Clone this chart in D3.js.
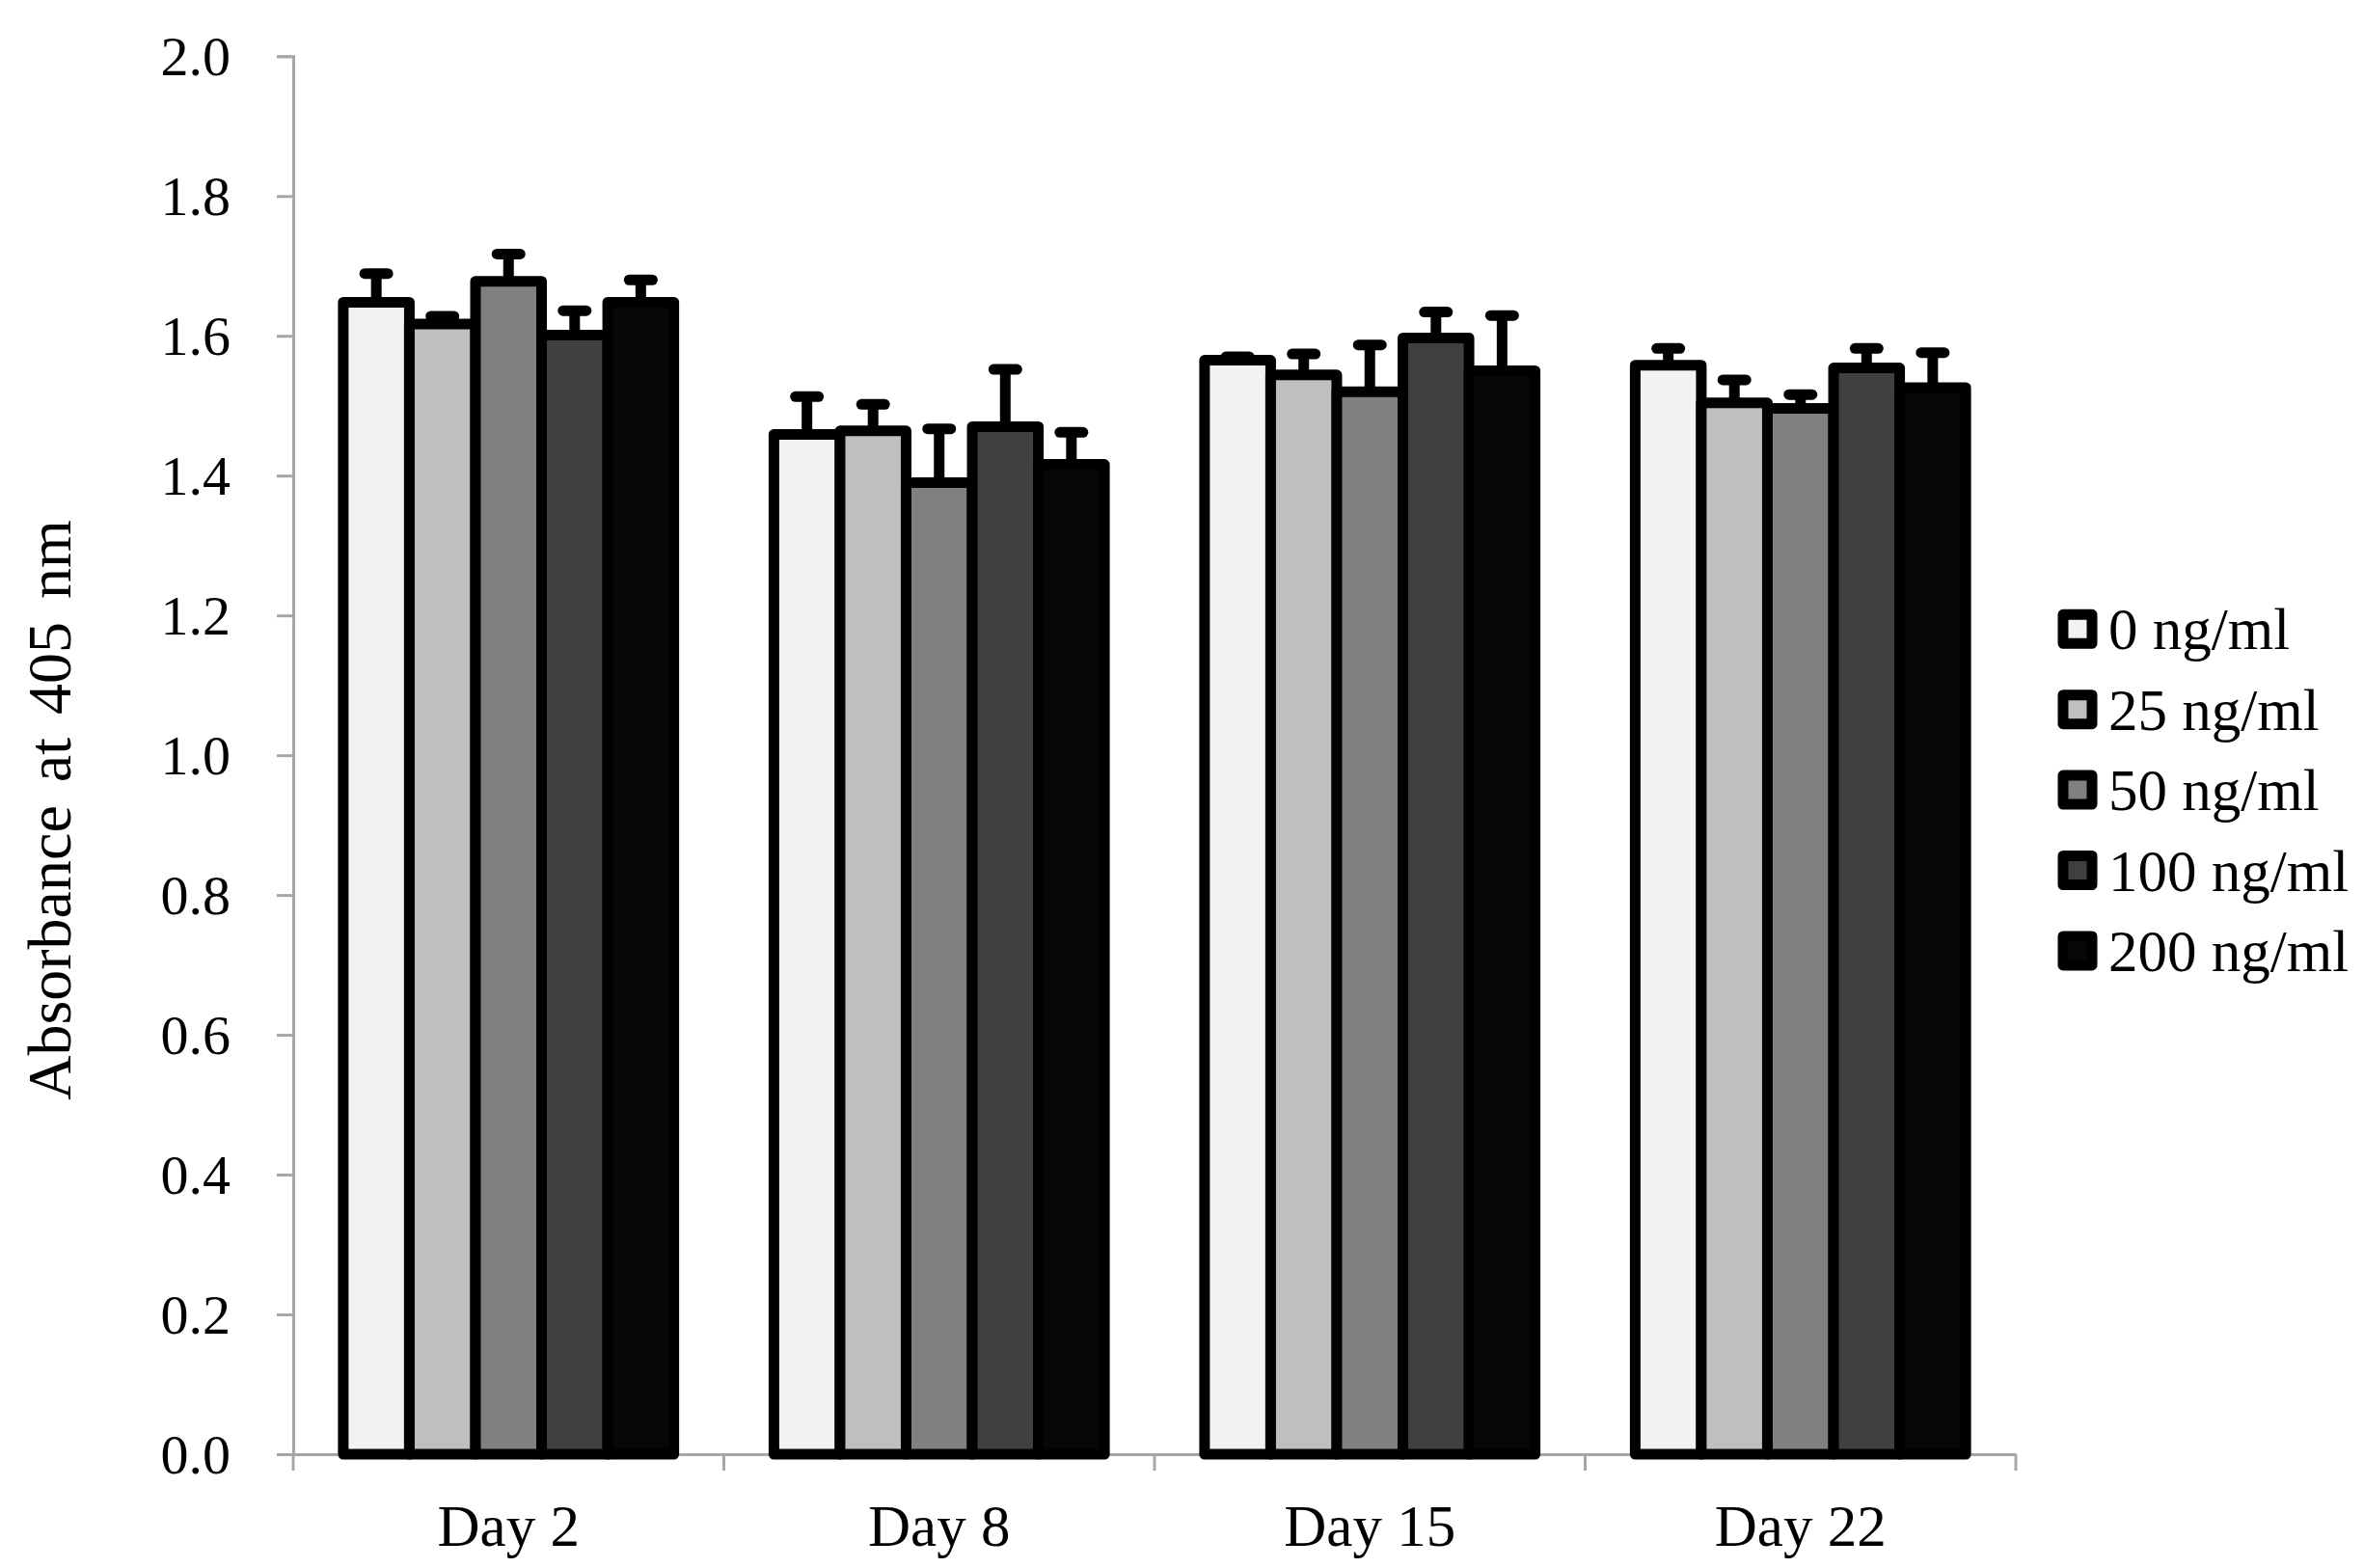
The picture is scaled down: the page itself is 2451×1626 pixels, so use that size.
<!DOCTYPE html>
<html><head><meta charset="utf-8">
<script src="https://cdn.jsdelivr.net/npm/d3@7"></script>
<style>body{margin:0;background:#fff}svg{display:block}</style>
</head><body>
<script>
const days = ["Day 2", "Day 8", "Day 15", "Day 22"];
const series = ["0 ng/ml", "25 ng/ml", "50 ng/ml", "100 ng/ml", "200 ng/ml"];
const colors = ["#f2f2f2", "#bfbfbf", "#808080", "#404040", "#070707"];
// values per series, across days
const means = [
  [1.648, 1.459, 1.565, 1.558],
  [1.617, 1.464, 1.544, 1.504],
  [1.678, 1.390, 1.520, 1.496],
  [1.601, 1.470, 1.597, 1.554],
  [1.648, 1.416, 1.550, 1.526]
];
const errors = [
  [0.041, 0.054, 0.005, 0.024],
  [0.011, 0.038, 0.030, 0.033],
  [0.039, 0.077, 0.067, 0.020],
  [0.035, 0.082, 0.037, 0.028],
  [0.032, 0.046, 0.079, 0.050]
];
const yTicks = [0, 0.2, 0.4, 0.6, 0.8, 1.0, 1.2, 1.4, 1.6, 1.8, 2.0];

const W = 2451, H = 1626;
const font = "'Liberation Serif','Times New Roman',serif";
const svg = d3.select("body").append("svg").attr("width", W).attr("height", H);

const x0 = d3.scaleBand().domain(days).range([304, 2090]).padding(0);
const x1 = d3.scaleBand().domain(series).range([0, x0.bandwidth()]).paddingInner(0).paddingOuter(0.757);
const y = d3.scaleLinear().domain([0, 2]).range([1508, 58.3]);
const axisColor = "#a6a6a6";

// y axis
const ya = svg.append("g").attr("transform", "translate(304,0)")
  .call(d3.axisLeft(y).tickValues(yTicks).tickSize(17).tickPadding(48).tickFormat(d3.format(".1f")));
ya.select(".domain").attr("stroke", axisColor).attr("stroke-width", 3);
ya.selectAll(".tick line").attr("stroke", axisColor).attr("stroke-width", 3);
ya.selectAll(".tick text").attr("font-family", font).attr("font-size", 58).attr("fill", "#000").attr("dy", "0.33em");

// x axis
const xa = svg.append("g").attr("transform", "translate(0,1508)")
  .call(d3.axisBottom(x0).tickSize(0).tickPadding(52));
xa.select(".domain").attr("stroke", axisColor).attr("stroke-width", 3);
xa.selectAll(".tick text").attr("font-family", font).attr("font-size", 61).attr("fill", "#000");
// category boundary ticks
const bounds = days.map(d => x0(d)).concat([x0.range()[1]]);
xa.selectAll(".bnd").data(bounds).enter().append("line")
  .attr("x1", d => d).attr("x2", d => d).attr("y1", 0).attr("y2", 17)
  .attr("stroke", axisColor).attr("stroke-width", 3);

// bars
const stroke = 11;
series.forEach((s, si) => {
  const g = svg.append("g");
  const rows = days.map((d, di) => ({d, v: means[si][di], e: errors[si][di]}));
  g.selectAll("rect").data(rows).enter().append("rect")
    .attr("x", r => x0(r.d) + x1(s))
    .attr("y", r => y(r.v))
    .attr("width", x1.bandwidth())
    .attr("height", r => y(0) - y(r.v))
    .attr("fill", colors[si]).attr("stroke", "#000").attr("stroke-width", stroke)
    .attr("stroke-linejoin", "round");
  // error bars
  g.selectAll(".eb").data(rows).enter().append("line")
    .attr("x1", r => x0(r.d) + x1(s) + x1.bandwidth() / 2)
    .attr("x2", r => x0(r.d) + x1(s) + x1.bandwidth() / 2)
    .attr("y1", r => y(r.v)).attr("y2", r => y(r.v + r.e))
    .attr("stroke", "#000").attr("stroke-width", 11);
  g.selectAll(".cap").data(rows).enter().append("line")
    .attr("x1", r => x0(r.d) + x1(s) + x1.bandwidth() / 2 - 12)
    .attr("x2", r => x0(r.d) + x1(s) + x1.bandwidth() / 2 + 12)
    .attr("y1", r => y(r.v + r.e)).attr("y2", r => y(r.v + r.e))
    .attr("stroke", "#000").attr("stroke-width", 11).attr("stroke-linecap", "round");
});

// y title
svg.append("text").attr("transform", "translate(73,840) rotate(-90)")
  .attr("text-anchor", "middle").attr("font-family", font).attr("font-size", 64)
  .attr("word-spacing", 8).text("Absorbance at 405 nm");

// legend
const leg = svg.append("g");
series.forEach((s, i) => {
  const cy = 652.3 + i * 83.4;
  leg.append("rect").attr("x", 2139).attr("y", cy - 15).attr("width", 30).attr("height", 30)
    .attr("fill", colors[i]).attr("stroke", "#000").attr("stroke-width", 11).attr("stroke-linejoin", "round");
  leg.append("text").attr("x", 2186).attr("y", cy + 21).attr("font-family", font).attr("font-size", 61).text(s);
});
</script>
</body></html>
